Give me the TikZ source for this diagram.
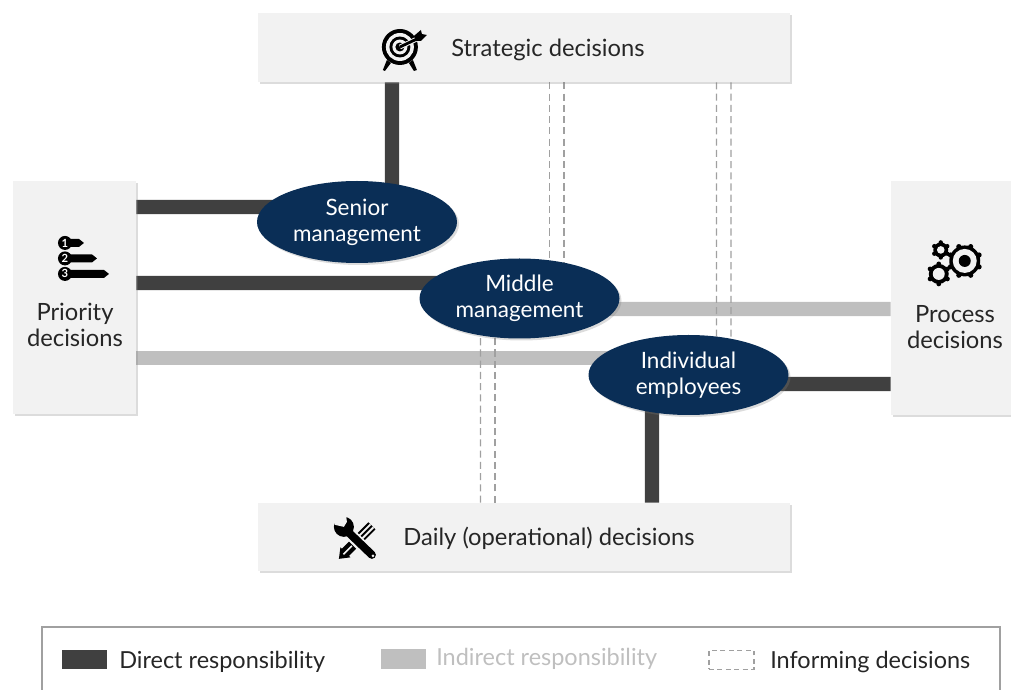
\documentclass[tikz,border=0pt]{standalone}
\usepackage{fontspec}
\setmainfont{Lato}
\usetikzlibrary{shapes.geometric,shadows,backgrounds}
\definecolor{boxgray}{HTML}{F2F2F2}
\definecolor{navy}{HTML}{0A2E56}
\definecolor{directcol}{HTML}{404040}
\definecolor{indirectcol}{HTML}{BFBFBF}
\definecolor{dashcol}{HTML}{A0A0A0}
\definecolor{textcol}{HTML}{262626}
\tikzset{
  softshadow/.style={drop shadow={opacity=.28,shadow xshift=.05cm,shadow yshift=-.05cm}},
  decisionbox/.style={rectangle,fill=boxgray,inner sep=0,softshadow},
  rolenode/.style={ellipse,fill=navy,inner sep=0,minimum width=5cm,minimum height=2cm,softshadow,text=white,align=center,font=\fontsize{16}{18.5}\selectfont},
  boxlabel/.style={text=textcol,align=center,inner sep=0,font=\fontsize{16.9}{19}\selectfont},
  keylabel/.style={text=textcol,anchor=west,inner sep=0,font=\fontsize{16.7}{19}\selectfont},
  direct/.style={draw=directcol,line width=.36cm},
  indirect/.style={draw=indirectcol,line width=.36cm},
  informing/.style={draw=dashcol,line width=.8pt,dash pattern=on 5pt off 3pt},
  swatch/.style={rectangle,inner sep=0,minimum width=1.125cm,minimum height=.475cm},
  px/.style={x=.025cm,y=-.025cm,shift={(0cm,17.225cm)}}
}
\begin{document}
\begin{tikzpicture}
\useasboundingbox (0,0) rectangle (25.275,17.225);
% decision boxes
\node[decisionbox,minimum width=13.3cm,minimum height=1.725cm] (strategic) at (13.1,16.0375) {};
\node[decisionbox,minimum width=13.3cm,minimum height=1.7cm] (daily) at (13.1,3.8) {};
\node[decisionbox,minimum width=3.075cm,minimum height=5.825cm] (priority) at (1.8625,9.7875) {};
\node[decisionbox,minimum width=3.5cm,minimum height=5.85cm] (process) at (24.025,9.775) {};
\node[boxlabel,anchor=west] (strategiclabel) at (11.275,15.98) {Strategic decisions};
\node[boxlabel,anchor=west] (dailylabel) at (10.075,3.76) {Daily (operational) decisions};
\node[boxlabel] (prioritylabel) at (1.875,9.1) {Priority\\decisions};
\node[boxlabel] (processlabel) at (23.875,9.05) {Process\\decisions};
% roles
\node[rolenode,minimum height=2.05cm] (senior) at (8.925,11.675) {Senior\\management};
\node[rolenode] (middle) at (12.9875,9.7625) {Middle\\management};
\node[rolenode] (individual) at (17.2125,7.85) {Individual\\employees};
% connectors
\begin{pgfonlayer}{background}
\draw[direct] ([xshift=-3.3cm]strategic.south) -- ([xshift=.875cm]senior.center);
\draw[direct] ([yshift=2.2625cm]priority.east) -- ([yshift=.375cm]senior.center);
\draw[direct] ([yshift=.3625cm]priority.east) -- ([yshift=.3875cm]middle.center);
\draw[direct] ([yshift=-2.15cm]process.west) -- ([yshift=-.225cm]individual.center);
\draw[direct] ([xshift=3.2cm]daily.north) -- ([xshift=-.9125cm]individual.center);
\draw[indirect] ([yshift=-1.5125cm]priority.east) -- ([yshift=.425cm]individual.center);
\draw[indirect] ([yshift=-.275cm]process.west) -- ([yshift=-.2625cm]middle.center);
\foreach \a/\b in {.6375/.75,1/1.1125}
  \draw[informing] ([xshift=\a cm]strategic.south) -- ([xshift=\b cm]middle.center);
\foreach \a/\b in {4.8125/.7,5.175/1.0625}
  \draw[informing] ([xshift=\a cm]strategic.south) -- ([xshift=\b cm]individual.center);
\foreach \a/\b in {-1.0875/-.975,-.725/-.6125}
  \draw[informing] ([xshift=\a cm]daily.north) -- ([xshift=\b cm]middle.center);
\end{pgfonlayer}
% target icon
\begin{scope}[px]
\fill (400,47) circle (18);
\fill[boxgray] (400,47) circle (14);
\fill (400,47) circle (10.5);
\fill[boxgray] (400,47) circle (7.5);
\fill (400,47) circle (4.5);
\fill (387,60) -- (391,63) -- (385,71) -- (383,70) -- cycle;
\fill (413,60) -- (409,63) -- (414,71) -- (417,70) -- cycle;
\draw[boxgray,line width=.12cm] (400,47) -- (416,39.5);
\draw[line width=.07cm] (400,47) -- (418,38.5);
\fill (414,36) -- (421,30) -- (422,34) -- (427,35) -- (421,41) -- (416,41) -- cycle;
\end{scope}
% priority icon
\begin{scope}[px]
\foreach \ypos/\tip/\num in {243/84/1,258.5/97/2,274/109/3}{
  \fill (65,\ypos-4) -- (\tip-5,\ypos-4) -- (\tip,\ypos) -- (\tip-5,\ypos+4) -- (65,\ypos+4) -- cycle;
  \fill (65,\ypos) circle (7);
  \node[text=white,inner sep=0,font=\bfseries\fontsize{8}{8}\selectfont] (rank\num) at (65,\ypos) {\num};
}
\end{scope}
% gears icon
\begin{scope}[px]
\foreach \ang in {0,45,...,315}
  \fill (965,261) ++(\ang+22.5:15.5) circle (2.6);
\fill (965,261) circle (15.5);
\fill[boxgray] (965,261) circle (12);
\fill (965,261) circle (6);
\foreach \ang in {0,60,...,300}
  \fill (941,250) ++(\ang+30:7.5) circle (2.2);
\fill (941,250) circle (7.5);
\fill[boxgray] (941,250) circle (3.8);
\foreach \ang in {0,60,...,300}
  \fill (939,274) ++(\ang+30:10) circle (2.4);
\fill (939,274) circle (10);
\fill[boxgray] (939,274) circle (6);
\end{scope}
% tools icon
\begin{scope}[px]
\draw[line width=.25cm] (344.5,553.5) -- (354,544);
\fill (339,559) -- (340.5,547.5) -- (350.5,557.5) -- cycle;
\draw[boxgray,line width=.04cm] (343.5,554.5) -- (352,546);
\draw[line width=.25cm] (358,540) -- (372,526);
\draw[boxgray,line width=.15cm] (358,540) -- (372,526);
\draw[line width=.05cm] (358,540) -- (372,526);
\draw[boxgray,line width=.3cm] (348,532) -- (370,554);
\draw[line width=.2cm,line cap=round] (347,531) -- (372,555);
\fill[boxgray] (373,556) circle (1.5);
\fill (344,527) circle (10);
\fill[boxgray] (344,527) -- (335,525) -- (331,514) -- (346,514) -- (347,522) -- cycle;
\end{scope}
% legend
\node[rectangle,draw=dashcol,line width=1pt,inner sep=0,minimum width=23.95cm,minimum height=1.825cm] (legend) at (13.025,.6375) {};
\node[swatch,fill=directcol] (directkey) at (2.1125,.725) {};
\node[keylabel] (directtext) at (2.975,.68) {Direct responsibility};
\node[swatch,fill=indirectcol] (indirectkey) at (10.0875,.75) {};
\node[keylabel,text=indirectcol] (indirecttext) at (10.9,.755) {Indirect responsibility};
\node[swatch,draw=dashcol,line width=.8pt,dash pattern=on 3.5pt off 2.5pt] (informingkey) at (18.2875,.725) {};
\node[keylabel] (informingtext) at (19.25,.68) {Informing decisions};
\end{tikzpicture}
\end{document}
